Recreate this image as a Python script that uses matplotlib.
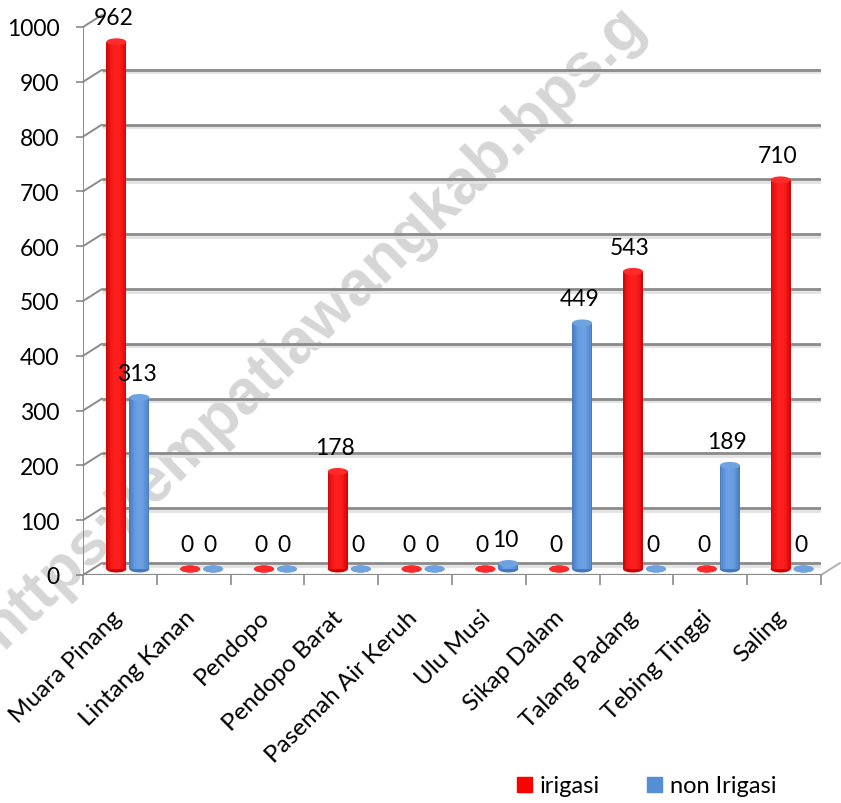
import matplotlib
matplotlib.use('Agg')
import matplotlib.pyplot as plt
from matplotlib.patches import Ellipse, Patch, ConnectionPatch
from matplotlib.transforms import offset_copy
import numpy as np

# ---- data -------------------------------------------------------------
categories = ['Muara Pinang', 'Lintang Kanan', 'Pendopo', 'Pendopo Barat',
              'Pasemah Air Keruh', 'Ulu Musi', 'Sikap Dalam', 'Talang Padang',
              'Tebing Tinggi', 'Saling']
irigasi = [962, 0, 0, 178, 0, 0, 0, 543, 0, 710]
non_irigasi = [313, 0, 0, 0, 0, 10, 449, 0, 189, 0]
y_ticks = [0, 100, 200, 300, 400, 500, 600, 700, 800, 900, 1000]
series_names = ['irigasi', 'non Irigasi']

plt.rcParams['font.family'] = ['Lato', 'DejaVu Sans']

W, H = 841, 804
fig = plt.figure(figsize=(W / 100, H / 100), dpi=100)
fig.patch.set_facecolor('white')

n = len(categories)
ax = fig.add_axes([83 / W, 228 / H, 738 / W, 548 / H])
ax.patch.set_visible(False)
for s in ax.spines.values():
    s.set_visible(False)

# depth of the pseudo-3D box, in pixels
DX, DY = 19, 12
back = offset_copy(ax.transData, fig=fig, x=DX, y=DY, units='dots')
back_shadow = offset_copy(ax.transData, fig=fig, x=DX, y=DY - 2.5, units='dots')
mid = offset_copy(ax.transData, fig=fig, x=DX / 2, y=DY / 2, units='dots')

grid_c = '#8a8a8a'

# back wall gridlines (with a soft shadow) and the side-wall connectors
for v in y_ticks:
    ax.plot([0, n], [v, v], transform=back_shadow, color='#e2e2e2', lw=2.0,
            solid_capstyle='butt', zorder=0.9)
    ax.plot([0, n], [v, v], transform=back, color=grid_c, lw=2.0,
            solid_capstyle='butt', zorder=1)
    ax.add_artist(ConnectionPatch((0, v), (0, v), coordsA=ax.transData,
                                  coordsB=back, color=grid_c, lw=1.4, zorder=1))
# floor edges and front axis lines
ax.add_artist(ConnectionPatch((n, 0), (n, 0), coordsA=ax.transData,
                              coordsB=back, color='#b0b0b0', lw=1.4, zorder=1))
ax.plot([0, n], [0, 0], color=grid_c, lw=1.6, zorder=2, solid_capstyle='butt')
ax.plot([0, 0], [0, 1000], color=grid_c, lw=1.4, zorder=2, solid_capstyle='butt')

# ---- cylinders --------------------------------------------------------
bar_w = 0.27
cat_px = 738 / n
pos_r = np.arange(n) + 0.5 - 13 / cat_px
pos_b = np.arange(n) + 0.5 + 10 / cat_px
cap_h = 7 / 0.548  # ellipse height in data units

styles = [
    dict(base='#ff0000', dark=np.array([0.78, 0.0, 0.0]),
         light=np.array([1.0, 0.12, 0.12]), cap='#ff2b2b'),
    dict(base='#558ed5', dark=np.array([0.25, 0.45, 0.72]),
         light=np.array([0.42, 0.63, 0.90]), cap='#6fa3e0'),
]


def cylinder(cx, v, st):
    ax.bar(cx, v, width=bar_w, color=st['base'], lw=0, transform=mid, zorder=3)
    nstrip = 12
    edges = np.linspace(cx - bar_w / 2, cx + bar_w / 2, nstrip + 1)
    for k in range(nstrip):
        t = (k + 0.5) / nstrip
        s = np.sin(np.pi * t) ** 0.7
        col = st['dark'] * (1 - s) + st['light'] * s
        ax.bar(edges[k], v, width=edges[k + 1] - edges[k], align='edge',
               color=col, lw=0, transform=mid, zorder=3)
    ax.add_patch(Ellipse((cx, 0), bar_w, cap_h, color=st['dark'] * 0.9 + 0.1 * st['light'],
                         transform=mid, zorder=2.9, lw=0))
    ax.add_patch(Ellipse((cx, v), bar_w, cap_h, color=st['cap'],
                         transform=mid, zorder=3.1, lw=0))


for vals, pos, st in ((irigasi, pos_r, styles[0]), (non_irigasi, pos_b, styles[1])):
    for cx, v in zip(pos, vals):
        cylinder(cx, v, st)
        ax.annotate(f'{v}', xy=(cx, v), xycoords=mid, xytext=(-3, 24),
                    textcoords='offset pixels', ha='center', va='center',
                    fontsize=16.5, color='black', zorder=5)

ax.set_xlim(0, n)
ax.set_ylim(0, 1000)

# ---- axes ticks and labels -------------------------------------------
ax.set_yticks(y_ticks)
ax.set_yticklabels([str(t) for t in y_ticks], fontsize=16.5)
ax.tick_params(axis='y', length=5, width=1.2, color=grid_c, pad=12)
ax.set_xticks(np.arange(n + 1))
ax.set_xticklabels([])
ax.tick_params(axis='x', length=7, width=1.2, color=grid_c)

lab_tr = offset_copy(ax.get_xaxis_transform(), fig=fig, x=-9, y=-31, units='dots')
for i, name in enumerate(categories):
    ax.text(i + 0.5, 0, name, transform=lab_tr, rotation=45, rotation_mode='anchor',
            ha='right', va='top', fontsize=17.5, color='black')

# ---- legend -----------------------------------------------------------
handles = [Patch(color='#ff0000', label=series_names[0]),
           Patch(color='#558ed5', label=series_names[1])]
fig.legend(handles=handles, loc='center left', bbox_to_anchor=(517 / W, 1 - 787 / H),
           ncol=2, frameon=False, fontsize=17, handlelength=0.62, handleheight=0.62,
           handletextpad=0.35, columnspacing=2.0, borderaxespad=0, borderpad=0)

# ---- site watermark ---------------------------------------------------
fig.text(314 / W, 1 - 326 / H, 'https://empatlawangkab.bps.g', rotation=44,
         ha='center', va='center', fontsize=45, fontweight='bold',
         family='Liberation Sans', color='#d6d6d6', zorder=-1)

fig.savefig('out.png', dpi=100, facecolor='white')
